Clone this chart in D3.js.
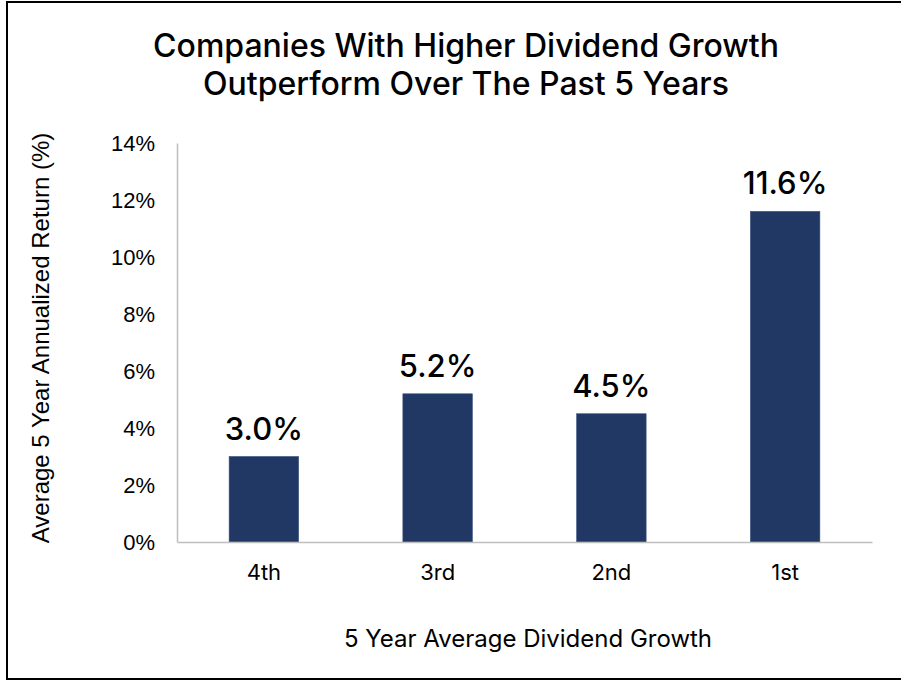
<!DOCTYPE html>
<html>
<head>
<meta charset="utf-8">
<script src="https://cdnjs.cloudflare.com/ajax/libs/d3/7.8.5/d3.min.js"></script>
<style>
  body { margin: 0; background: #fff; }
  svg { display: block; }
</style>
</head>
<body>
<div id="chart"></div>
<script>
// chart values
var categories = ["4th", "3rd", "2nd", "1st"];
var returns = [3.0, 5.2, 4.5, 11.6];
var yTicks = [0, 2, 4, 6, 8, 10, 12, 14];
var titleLines = ["Companies With Higher Dividend Growth", "Outperform Over The Past 5 Years"];

var width = 901, height = 681;
var plot = {left: 177, right: 872, top: 143, bottom: 542};

var svg = d3.select("#chart").append("svg")
    .attr("width", width)
    .attr("height", height);

// outer frame (right side runs off the picture)
svg.append("rect")
    .attr("x", 7).attr("y", 2)
    .attr("width", 910).attr("height", 677)
    .attr("fill", "none")
    .attr("stroke", "#000")
    .attr("stroke-width", 2);

// title
svg.append("g").selectAll("text")
    .data(titleLines)
  .enter().append("text")
    .attr("x", 466)
    .attr("y", function(d, i){ return 57 + i * 38; })
    .attr("text-anchor", "middle")
    .style("font-family", "Inter, 'Noto Sans', sans-serif")
    .style("font-size", "32px")
    .style("font-weight", 500)
    .style("fill", "#000")
    .text(function(d){ return d; });

var x = d3.scaleBand()
    .domain(categories)
    .range([plot.left, plot.right])
    .paddingInner(0.6)
    .paddingOuter(0.3);

var y = d3.scaleLinear()
    .domain([0, 14])
    .range([plot.bottom, plot.top]);

// y axis
var yAxis = svg.append("g")
    .attr("transform", "translate(" + plot.left + ",0)")
    .call(d3.axisLeft(y).tickValues(yTicks).tickSize(0).tickPadding(22)
      .tickFormat(function(d){ return d + "%"; }));
yAxis.select(".domain").attr("stroke", "#bfbfbf").attr("stroke-width", 1.5);
yAxis.selectAll("text")
    .style("font-family", "'Liberation Sans', Arial, sans-serif")
    .style("font-size", "22px")
    .style("fill", "#000");

// bars
svg.append("g").selectAll("rect")
    .data(returns)
  .enter().append("rect")
    .attr("x", function(d, i){ return x(categories[i]); })
    .attr("y", function(d){ return y(d); })
    .attr("width", x.bandwidth())
    .attr("height", function(d){ return y(0) - y(d); })
    .attr("fill", "#213864")
    .attr("stroke", "#3a5080")
    .attr("stroke-width", 0.6);

// value labels
svg.append("g").selectAll("text")
    .data(returns)
  .enter().append("text")
    .attr("x", function(d, i){ return x(categories[i]) + x.bandwidth() / 2; })
    .attr("y", function(d){ return y(d) - 17; })
    .attr("text-anchor", "middle")
    .style("font-family", "Inter, 'Noto Sans', sans-serif")
    .style("font-size", "31px")
    .style("font-weight", 500)
    .style("fill", "#000")
    .text(function(d){ return d.toFixed(1) + "%"; });

// x axis
var xAxis = svg.append("g")
    .attr("transform", "translate(0," + plot.bottom + ")")
    .call(d3.axisBottom(x).tickSize(0).tickPadding(22));
xAxis.select(".domain").attr("stroke", "#bfbfbf").attr("stroke-width", 1.5);
xAxis.selectAll("text")
    .style("font-family", "Inter, 'Noto Sans', sans-serif")
    .style("font-size", "22px")
    .style("fill", "#000");

// axis titles
svg.append("text")
    .attr("x", 528)
    .attr("y", 647)
    .attr("text-anchor", "middle")
    .style("font-family", "Inter, 'Noto Sans', sans-serif")
    .style("font-size", "24px")
    .style("fill", "#000")
    .text("5 Year Average Dividend Growth");

svg.append("text")
    .attr("transform", "translate(49,338) rotate(-90)")
    .attr("text-anchor", "middle")
    .style("font-family", "'Liberation Sans', Arial, sans-serif")
    .style("font-size", "24px")
    .style("fill", "#000")
    .text("Average 5 Year Annualized Return (%)");
</script>
</body>
</html>
